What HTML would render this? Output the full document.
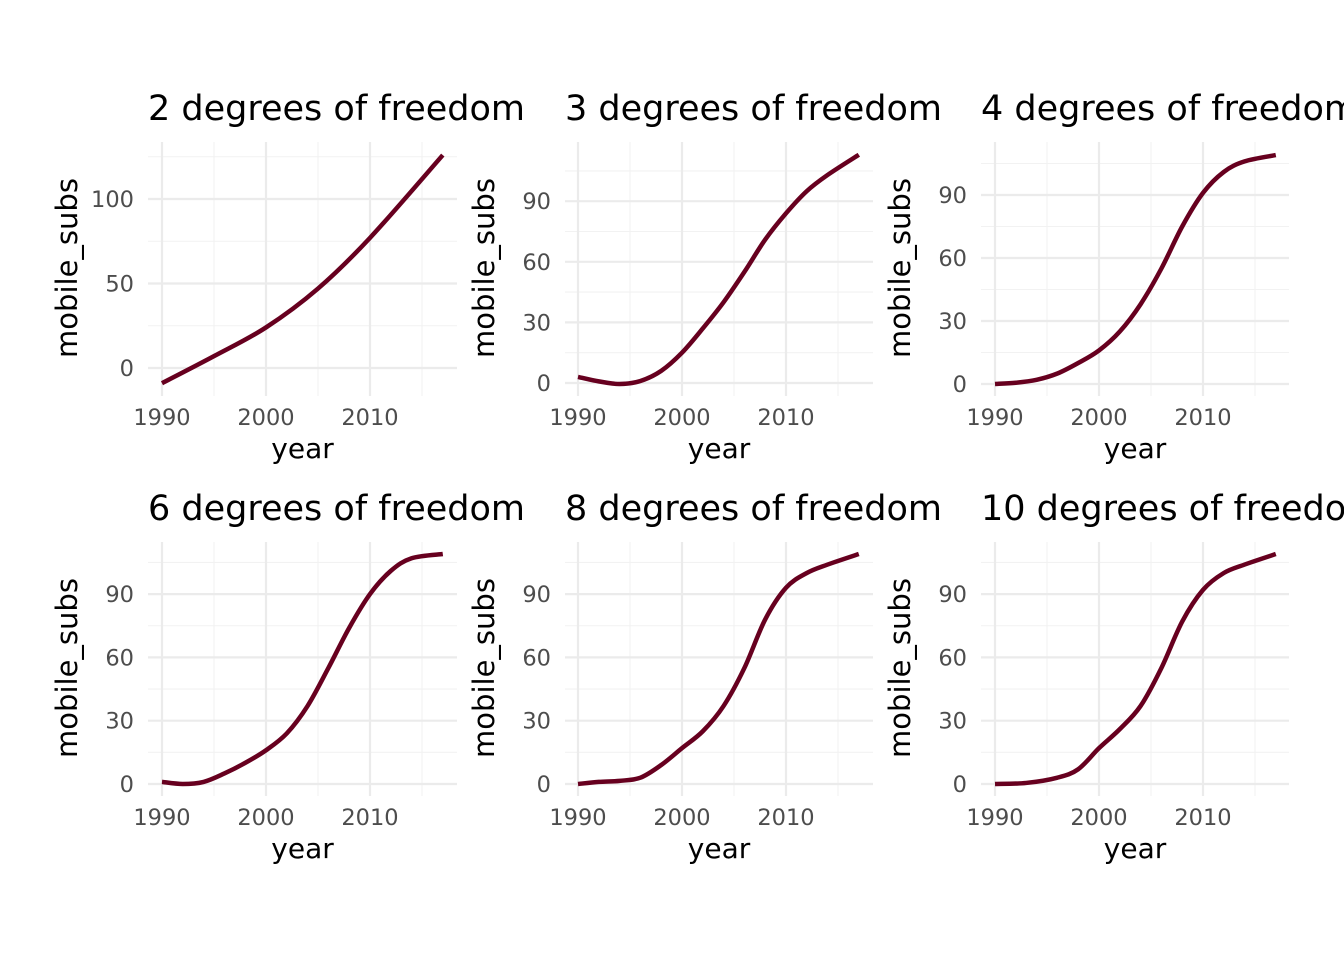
<!DOCTYPE html>
<html><head><meta charset="utf-8"><style>
body{margin:0;background:#fff}
svg{display:block}
</style></head><body>
<svg id="s" width="1344" height="960" xmlns="http://www.w3.org/2000/svg" font-family="DejaVu Sans, Liberation Sans, sans-serif"></svg>
<script>
const S=document.getElementById('s');
let h='';
const panels=[
 {x0:148,x1:457,y0:142,y1:396,dx:162,zy:368,sc:1.69,yt:[0,50,100],ym:[25,75,125],title:"2 degrees of freedom",
  d:[[1990,-9],[1995,7],[2000,24],[2005,47],[2010,77],[2017,126]]},
 {x0:565,x1:873,y0:142,y1:396,dx:578,zy:383,sc:2.02,yt:[0,30,60,90],ym:[15,45,75,105],title:"3 degrees of freedom",
  d:[[1990,3],[1992,0.8],[1994,-0.5],[1996,1],[1998,6],[2000,15],[2002,27],[2004,40],[2006,55],[2008,71],[2010,84],[2012,95],[2014,103],[2017,113]]},
 {x0:981,x1:1289,y0:142,y1:396,dx:995,zy:384,sc:2.1,yt:[0,30,60,90],ym:[15,45,75,105],title:"4 degrees of freedom",
  d:[[1990,0],[1992,0.6],[1994,2],[1996,5],[1998,10],[2000,16],[2002,25],[2004,38],[2006,55],[2008,75],[2010,91],[2012,101],[2014,106],[2017,109]]},
 {x0:148,x1:457,y0:542,y1:796,dx:162,zy:784,sc:2.11,yt:[0,30,60,90],ym:[15,45,75,105],title:"6 degrees of freedom",
  d:[[1990,1],[1992,0],[1994,1],[1996,5],[1998,10],[2000,16],[2002,24],[2004,37],[2006,55],[2008,74],[2010,90],[2012,101],[2014,107],[2017,109]]},
 {x0:565,x1:873,y0:542,y1:796,dx:578,zy:784,sc:2.11,yt:[0,30,60,90],ym:[15,45,75,105],title:"8 degrees of freedom",
  d:[[1990,0],[1992,1],[1994,1.5],[1996,3],[1998,9],[2000,17],[2002,25],[2004,37],[2006,55],[2008,78],[2010,93],[2012,100],[2014,104],[2017,109]]},
 {x0:981,x1:1289,y0:542,y1:796,dx:995,zy:784,sc:2.11,yt:[0,30,60,90],ym:[15,45,75,105],title:"10 degrees of freedom",
  d:[[1990,0],[1993,0.5],[1996,3],[1998,7],[2000,17],[2002,26],[2004,37],[2006,55],[2008,77],[2010,92],[2012,100],[2014,104],[2017,109]]},
];
panels.forEach(p=>{
 const X=t=>p.dx+(t-1990)*10.4, Y=v=>p.zy-v*p.sc;
 p.ym.forEach(v=>{const y=Y(v); if(y>p.y0&&y<p.y1) h+=`<line x1="${p.x0}" x2="${p.x1}" y1="${y}" y2="${y}" stroke="#f2f2f2" stroke-width="1.1"/>`;});
 [1995,2005,2015].forEach(t=>{h+=`<line x1="${X(t)}" x2="${X(t)}" y1="${p.y0}" y2="${p.y1}" stroke="#f2f2f2" stroke-width="1.1"/>`;});
 p.yt.forEach(v=>{const y=Y(v);h+=`<line x1="${p.x0}" x2="${p.x1}" y1="${y}" y2="${y}" stroke="#ebebeb" stroke-width="2.2"/><text x="${p.x0-14}" y="${y+8}" text-anchor="end" font-size="22.5" fill="#4d4d4d">${v}</text>`;});
 [1990,2000,2010].forEach(t=>{h+=`<line x1="${X(t)}" x2="${X(t)}" y1="${p.y0}" y2="${p.y1}" stroke="#ebebeb" stroke-width="2.2"/><text x="${X(t)}" y="${p.y1+29}" text-anchor="middle" font-size="22.5" fill="#4d4d4d">${t}</text>`;});
 const pts=p.d.map(a=>[X(a[0]),Y(a[1])]);
 let d=`M${pts[0][0]},${pts[0][1]}`;
 for(let i=0;i<pts.length-1;i++){
  const p0=pts[Math.max(0,i-1)],p1=pts[i],p2=pts[i+1],p3=pts[Math.min(pts.length-1,i+2)];
  d+=` C${p1[0]+(p2[0]-p0[0])/6},${p1[1]+(p2[1]-p0[1])/6} ${p2[0]-(p3[0]-p1[0])/6},${p2[1]-(p3[1]-p1[1])/6} ${p2[0]},${p2[1]}`;
 }
 h+=`<path d="${d}" fill="none" stroke="#67001f" stroke-width="4.5"/>`;
 h+=`<text x="${p.x0}" y="${p.y0-22}" font-size="35" fill="#000">${p.title}</text>`;
 h+=`<text x="${(p.x0+p.x1)/2}" y="${p.y1+62}" text-anchor="middle" font-size="28" fill="#000">year</text>`;
 const ly=(p.y0+p.y1)/2-1;
 h+=`<text transform="translate(${p.x0-71},${ly}) rotate(-90)" text-anchor="middle" font-size="29" fill="#000">mobile_subs</text>`;
});
S.innerHTML=h;
</script>
</body></html>
